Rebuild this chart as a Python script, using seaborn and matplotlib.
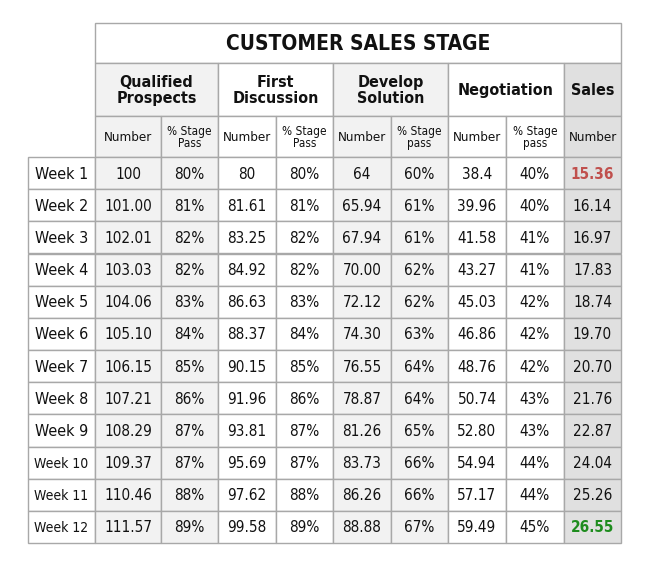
import numpy as np
import matplotlib
matplotlib.use("Agg")
import matplotlib.pyplot as plt
from matplotlib.patches import Rectangle
import seaborn as sns

title = "CUSTOMER SALES STAGE"
stages = ["Qualified\nProspects", "First\nDiscussion", "Develop\nSolution", "Negotiation", "Sales"]
sub_labels = ["Number", "% Stage\nPass", "Number", "% Stage\nPass", "Number", "% Stage\npass",
              "Number", "% Stage\npass", "Number"]
weeks = ["Week %d" % i for i in range(1, 13)]

qp_num = [100, 101.00, 102.01, 103.03, 104.06, 105.10, 106.15, 107.21, 108.29, 109.37, 110.46, 111.57]
qp_pct = [80, 81, 82, 82, 83, 84, 85, 86, 87, 87, 88, 89]
fd_num = [80, 81.61, 83.25, 84.92, 86.63, 88.37, 90.15, 91.96, 93.81, 95.69, 97.62, 99.58]
fd_pct = [80, 81, 82, 82, 83, 84, 85, 86, 87, 87, 88, 89]
ds_num = [64, 65.94, 67.94, 70.00, 72.12, 74.30, 76.55, 78.87, 81.26, 83.73, 86.26, 88.88]
ds_pct = [60, 61, 61, 62, 62, 63, 64, 64, 65, 66, 66, 67]
ng_num = [38.4, 39.96, 41.58, 43.27, 45.03, 46.86, 48.76, 50.74, 52.80, 54.94, 57.17, 59.49]
ng_pct = [40, 40, 41, 41, 42, 42, 42, 43, 43, 44, 44, 45]
sales = [15.36, 16.14, 16.97, 17.83, 18.74, 19.70, 20.70, 21.76, 22.87, 24.04, 25.26, 26.55]

columns = [qp_num, qp_pct, fd_num, fd_pct, ds_num, ds_pct, ng_num, ng_pct, sales]
is_pct = [False, True, False, True, False, True, False, True, False]

sns.set_theme(style="white")
plt.rcParams['font.family'] = ['DejaVu Sans']
plt.rcParams['font.stretch'] = 'condensed'

# layout in pixels
xs = [28, 95, 161, 218, 276, 333, 391, 448, 506, 564, 621]
y_title, y_group, y_sub, y_data, y_end = 23, 63, 116, 157, 543
row_h = (y_end - y_data) / len(weeks)
light, dark = "#f2f2f2", "#e0e0e0"
col_bg = [light, light, "white", "white", light, light, "white", "white", dark]
line_c = "#a8a8a8"
ink = "#111111"

fig = plt.figure(figsize=(6.5, 5.65), dpi=100)
ax = fig.add_axes([0, 0, 1, 1])
ax.set_xlim(0, 650)
ax.set_ylim(565, 0)
ax.axis("off")


def cell(x0, x1, y0, y1, fc):
    ax.add_patch(Rectangle((x0, y0), x1 - x0, y1 - y0, facecolor=fc,
                           edgecolor=line_c, linewidth=1.0))


# title row
cell(xs[1], xs[-1], y_title, y_group, "white")
ax.text((xs[1] + xs[-1]) / 2, (y_title + y_group) / 2 + 1, title, ha="center", va="center",
        fontsize=15, fontweight="bold", color=ink, fontstretch="condensed")

# stage header row
group_cols = [(1, 3), (3, 5), (5, 7), (7, 9), (9, 10)]
for (a, b), name in zip(group_cols, stages):
    cell(xs[a], xs[b], y_group, y_sub, col_bg[a - 1])
    ax.text((xs[a] + xs[b]) / 2, (y_group + y_sub) / 2 + 1, name, ha="center", va="center",
            fontsize=11.5, fontweight="bold", color=ink, linespacing=1.15, fontstretch="condensed")

# sub header row
for j, lab in enumerate(sub_labels):
    cell(xs[j + 1], xs[j + 2], y_sub, y_data, col_bg[j])
    ax.text((xs[j + 1] + xs[j + 2]) / 2, (y_sub + y_data) / 2 + 1, lab, ha="center", va="center",
            fontsize=9.5 if "\n" not in lab else 8.5, color=ink, linespacing=0.95,
            fontstretch="condensed")

# data rows
for i, wk in enumerate(weeks):
    y0 = y_data + i * row_h
    y1 = y0 + row_h
    yc = (y0 + y1) / 2 + 1
    cell(xs[0], xs[1], y0, y1, "white")
    ax.text((xs[0] + xs[1]) / 2, yc, wk, ha="center", va="center",
            fontsize=11.5 if i < 9 else 10, color=ink, fontstretch="condensed")
    for j, col in enumerate(columns):
        v = col[i]
        if is_pct[j]:
            s = "%d%%" % v
        elif i == 0:
            s = "%g" % v
        else:
            s = "%.2f" % v
        color, weight = ink, "normal"
        if j == len(columns) - 1 and i == 0:
            color, weight = "#c0504d", "bold"
        if j == len(columns) - 1 and i == len(weeks) - 1:
            color, weight = "#1e8c1e", "bold"
        cell(xs[j + 1], xs[j + 2], y0, y1, col_bg[j])
        ax.text((xs[j + 1] + xs[j + 2]) / 2, yc, s, ha="center", va="center",
                fontsize=11, color=color, fontweight=weight, fontstretch="condensed")

fig.savefig("out.png", dpi=100)
